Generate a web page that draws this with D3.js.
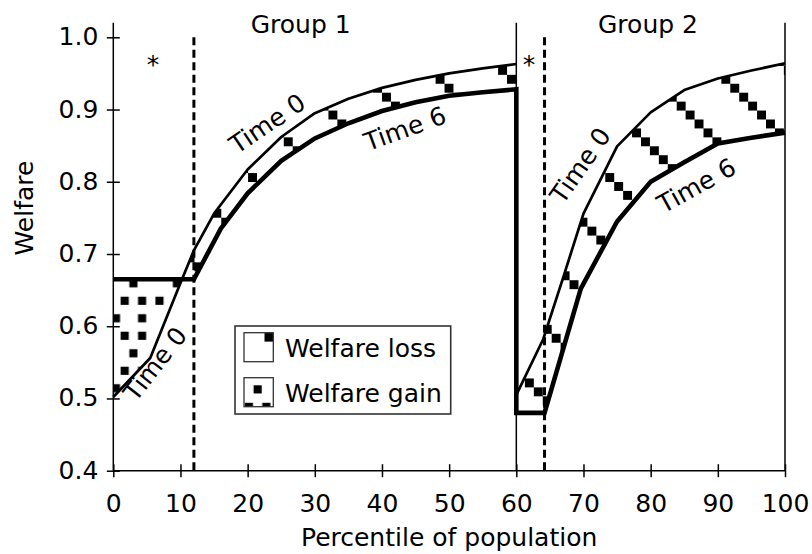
<!DOCTYPE html>
<html><head><meta charset="utf-8">
<script src="https://cdn.jsdelivr.net/npm/d3@7"></script>
<style>body{margin:0;background:#fff} svg text{font-family:"DejaVu Sans",sans-serif;fill:#000}</style>
</head><body><svg id="c" width="812" height="554"></svg>
<script>
// ---- data ----
const xTicks = [0,10,20,30,40,50,60,70,80,90,100];
const yTicks = [0.4,0.5,0.6,0.7,0.8,0.9,1.0];
const g1Time0X = [0, 5.5, 10, 12, 15, 20, 25, 30, 35, 40, 45, 50, 55, 60];
const g1Time0Y = [0.502, 0.556, 0.660, 0.705, 0.756, 0.817, 0.862, 0.895, 0.915, 0.930, 0.941, 0.950, 0.957, 0.963];
const g1Time6X = [0, 12, 16, 20, 25, 30, 35, 40, 45, 50, 55, 60];
const g1Time6Y = [0.665, 0.665, 0.735, 0.784, 0.829, 0.860, 0.881, 0.898, 0.910, 0.919, 0.924, 0.928];
const g2Time0X = [60, 64, 67, 70, 75, 80, 85, 90, 95, 100];
const g2Time0Y = [0.505, 0.582, 0.668, 0.756, 0.849, 0.896, 0.927, 0.943, 0.954, 0.964];
const g2Time6X = [60, 64.2, 69.6, 75, 80, 85, 90, 95, 100];
const g2Time6Y = [0.480, 0.480, 0.652, 0.745, 0.800, 0.827, 0.853, 0.861, 0.868];
const dashX = [12, 64.2];
const groupLabels = [{t:"Group 1", x:27.9}, {t:"Group 2", x:79.6}];
const starX = [5.9, 61.9];
const curveLabels = [
  {t:"Time 0", x:22.9, y:0.881, r:-34},
  {t:"Time 6", x:43.4, y:0.874, r:-20},
  {t:"Time 0", x:6.2, y:0.548, r:-52},
  {t:"Time 0", x:69.5, y:0.823, r:-55},
  {t:"Time 6", x:86.8, y:0.795, r:-29}
];
const legendItems = ["Welfare loss", "Welfare gain"];

// ---- setup ----
const svg = d3.select("#c");
const x = d3.scaleLinear([0,100],[113.3,785]);
const y = d3.scaleLinear([0.4,1.0],[470.7,37.3]);
const pts = (xs, ys) => xs.map((v,i)=>[x(v), y(ys[i])]);
const line = d3.line();
const FS = 25;

const defs = svg.append("defs");
// loss pattern: diagonal chain of squares
const pL = 8.93, TL = pL*8;
function lossPattern(id, ox, oy){
  const p = defs.append("pattern").attr("id",id).attr("patternUnits","userSpaceOnUse")
    .attr("x",ox).attr("y",oy).attr("width",TL).attr("height",TL);
  d3.range(8).forEach(k=>p.append("rect").attr("x",k*pL).attr("y",k*pL).attr("width",pL).attr("height",pL).attr("fill","#000"));
}
lossPattern("loss", 78.4, 3.4);
lossPattern("lossLeg", 264.5, 332.7);
// gain pattern: sparse dots
const pwG = 8.7, phG = 8.75;
const gainBits = [[2,0],[7,0],[1,2],[3,2],[5,2],[0,4],[3,4],[1,6],[3,6]];
function gainPattern(id, ox, oy){
  const p = defs.append("pattern").attr("id",id).attr("patternUnits","userSpaceOnUse")
    .attr("x",ox).attr("y",oy).attr("width",pwG*8).attr("height",phG*8);
  gainBits.forEach(([c,r])=>p.append("rect").attr("x",c*pwG+0.3).attr("y",r*phG+0.3).attr("width",pwG-0.6).attr("height",phG-0.6).attr("fill","#000"));
}
gainPattern("gain", 111.65, 278.9);
gainPattern("gainLeg", 235.9, 385);

// clip paths relative to Time 0 of each group
function clips(id, xs, ys){
  const p = pts(xs, ys);
  const x0 = x(xs[0]), x1 = x(xs[xs.length-1]);
  defs.append("clipPath").attr("id",id+"below").append("path")
    .attr("d", line(p.concat([[x1, y(0.3)],[x0, y(0.3)]])) + "Z");
  defs.append("clipPath").attr("id",id+"above").append("path")
    .attr("d", line(p.concat([[x1, y(1.1)],[x0, y(1.1)]])) + "Z");
}
clips("g1", g1Time0X, g1Time0Y);
clips("g2", g2Time0X, g2Time0Y);

function band(id, x0s, y0s, x6s, y6s){
  const poly = pts(x0s,y0s).concat(pts(x6s,y6s).reverse());
  const d = line(poly) + "Z";
  svg.append("path").attr("d",d).attr("fill","url(#loss)").attr("clip-path",`url(#${id}below)`);
  svg.append("path").attr("d",d).attr("fill","url(#gain)").attr("clip-path",`url(#${id}above)`);
}
band("g1", g1Time0X, g1Time0Y, g1Time6X, g1Time6Y);
band("g2", g2Time0X, g2Time0Y, g2Time6X, g2Time6Y);

// dashed lines
svg.selectAll(".dash").data(dashX).join("line")
  .attr("x1",d=>x(d)).attr("x2",d=>x(d)).attr("y1",y(1.0)).attr("y2",y(0.4))
  .attr("stroke","#000").attr("stroke-width",3).attr("stroke-dasharray","8,4.5");

// frame lines
const frame = [[0,1.02,0,0.4],[60,1.02,60,0.4],[100,1.02,100,0.4],[0,0.4,100,0.4]];
svg.selectAll(".frame").data(frame).join("line")
  .attr("x1",d=>x(d[0])).attr("y1",d=>y(d[1])).attr("x2",d=>x(d[2])).attr("y2",d=>y(d[3]))
  .attr("stroke","#000").attr("stroke-width",1.5);

// axes
const gxB = svg.append("g").attr("transform",`translate(0,${y(0.4)})`)
  .call(d3.axisBottom(x).tickValues(xTicks).tickSize(6.5).tickSizeOuter(0));
const gxT = svg.append("g").attr("transform",`translate(0,${y(0.4)})`)
  .call(d3.axisTop(x).tickValues(xTicks).tickSize(6.5).tickSizeOuter(0).tickFormat(""));
const gyL = svg.append("g").attr("transform",`translate(${x(0)},0)`)
  .call(d3.axisLeft(y).tickValues(yTicks).tickFormat(d3.format(".1f")).tickSize(6.5).tickPadding(8.5).tickSizeOuter(0));
const gyR = svg.append("g").attr("transform",`translate(${x(0)},0)`)
  .call(d3.axisRight(y).tickValues(yTicks).tickSize(6.5).tickSizeOuter(0).tickFormat(""));
[gxB,gxT,gyL,gyR].forEach(g=>{
  g.select(".domain").remove();
  g.selectAll("line").attr("stroke","#000").attr("stroke-width",1.5);
  g.attr("font-family",null).attr("font-size",null);
  g.selectAll("text").attr("font-size",FS).attr("fill","#000");
});
gxB.selectAll("text").attr("y",41).attr("dy",null);
gyL.selectAll("text").attr("dy","0.3em");

// curves
const thin = [pts(g1Time0X,g1Time0Y), pts(g2Time0X,g2Time0Y)];
svg.selectAll(".t0").data(thin).join("path").attr("d",line)
  .attr("fill","none").attr("stroke","#000").attr("stroke-width",2.7).attr("stroke-linejoin","round");
const thick = pts(g1Time6X,g1Time6Y).concat(pts(g2Time6X,g2Time6Y));
svg.append("path").attr("d",line(thick)).attr("fill","none").attr("stroke","#000")
  .attr("stroke-width",4.6).attr("stroke-linejoin","miter").attr("stroke-miterlimit",4);

// texts
svg.selectAll(".grp").data(groupLabels).join("text")
  .attr("x",d=>x(d.x)).attr("y",33).attr("text-anchor","middle").attr("font-size",FS).text(d=>d.t);
svg.selectAll(".star").data(starX).join("text")
  .attr("x",d=>x(d)).attr("y",y(0.97)+14).attr("text-anchor","middle").attr("font-size",FS).text("*");
svg.selectAll(".cl").data(curveLabels).join("text")
  .attr("transform",d=>`translate(${x(d.x)},${y(d.y)}) rotate(${d.r})`)
  .attr("text-anchor","middle").attr("dy","0.36em").attr("font-size",FS).text(d=>d.t);

svg.append("text").attr("transform","translate(33.3,208) rotate(-90)")
  .attr("text-anchor","middle").attr("font-size",FS).text("Welfare");
svg.append("text").attr("x",(x(0)+x(100))/2).attr("y",546)
  .attr("text-anchor","middle").attr("font-size",FS).text("Percentile of population");

// legend
const lg = svg.append("g");
lg.append("rect").attr("x",235).attr("y",326).attr("width",215.7).attr("height",88)
  .attr("fill","#fff").attr("stroke","#333").attr("stroke-width",1.6);
const legFill = ["url(#lossLeg)","url(#gainLeg)"];
const legY = [332.7, 377.7];
legendItems.forEach((t,i)=>{
  lg.append("rect").attr("x",244).attr("y",legY[i]).attr("width",29.3).attr("height",29)
    .attr("fill","#fff");
  lg.append("rect").attr("x",244).attr("y",legY[i]).attr("width",29.3).attr("height",29)
    .attr("fill",legFill[i]).attr("stroke","#333").attr("stroke-width",1.3);
  lg.append("text").attr("x",285).attr("y",legY[i]+24.6).attr("font-size",FS).text(t);
});
</script></body></html>
